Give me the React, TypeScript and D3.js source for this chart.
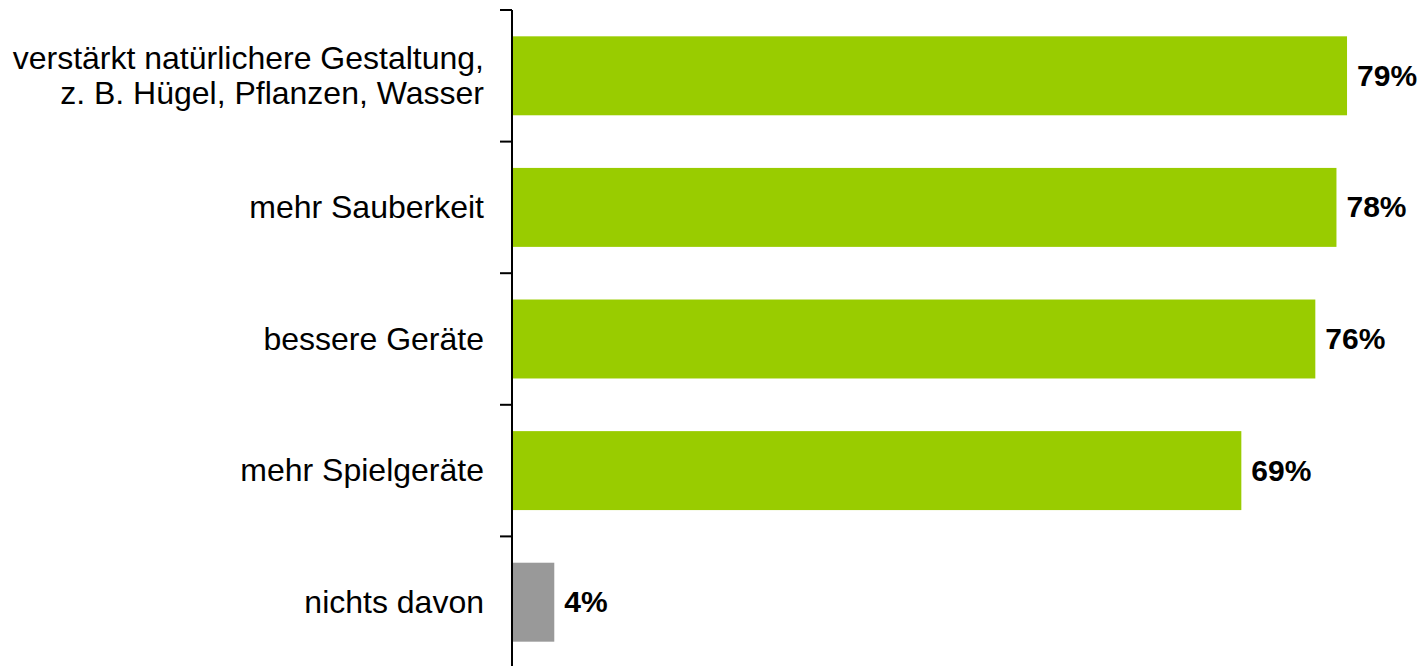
import React from "react";
import * as d3 from "d3";

const categories: string[][] = [
  ["verstärkt natürlichere Gestaltung,", "z. B. Hügel, Pflanzen, Wasser"],
  ["mehr Sauberkeit"],
  ["bessere Geräte"],
  ["mehr Spielgeräte"],
  ["nichts davon"],
];
const values: number[] = [79, 78, 76, 69, 4];
const valueLabels: string[] = ["79%", "78%", "76%", "69%", "4%"];
const barColors: string[] = ["#99cc00", "#99cc00", "#99cc00", "#99cc00", "#999999"];

const W = 1422;
const H = 666;

export default function App() {
  const idx = categories.map((_, i) => String(i));
  const yBand = d3.scaleBand<string>().domain(idx).range([10, 668]).paddingInner(0.4).paddingOuter(0.2);
  const yEdges = d3.scaleBand<string>().domain(idx).range([10, 668]).padding(0);
  const x = d3.scaleLinear().domain([0, 100]).range([512, 1569]);
  const font = "Arial, 'Liberation Sans', sans-serif";
  const ticks = [...idx.map((k) => yEdges(k)!), 668];
  return (
    <svg width={W} height={H} style={{ position: "absolute", left: 0, top: 0 }} fontFamily={font}>
      <rect width={W} height={H} fill="#fff" />
      {values.map((v, i) => {
        const y0 = yBand(String(i))!;
        const bw = yBand.bandwidth();
        return (
          <g key={i}>
            <rect x={x(0)} y={y0} width={x(v) - x(0)} height={bw} fill={barColors[i]} />
            <text x={x(v) + 10} y={y0 + bw / 2} dy="0.33em" fontSize={30} fontWeight="bold" fill="#000">
              {valueLabels[i]}
            </text>
          </g>
        );
      })}
      <line x1={x(0)} x2={x(0)} y1={10} y2={H} stroke="#000" strokeWidth={2} />
      {ticks.map((t, i) => (
        <line key={i} x1={x(0) - 12} x2={x(0)} y1={t} y2={t} stroke="#000" strokeWidth={2} />
      ))}
      {categories.map((lines, i) => {
        const cy = yEdges(String(i))! + yEdges.bandwidth() / 2;
        const lh = 35;
        const start = cy - ((lines.length - 1) * lh) / 2;
        return (
          <text key={i} x={484} textAnchor="end" fontSize={32} fill="#000">
            {lines.map((l, j) => (
              <tspan key={j} x={484} y={start + j * lh} dy="0.34em">
                {l}
              </tspan>
            ))}
          </text>
        );
      })}
    </svg>
  );
}
